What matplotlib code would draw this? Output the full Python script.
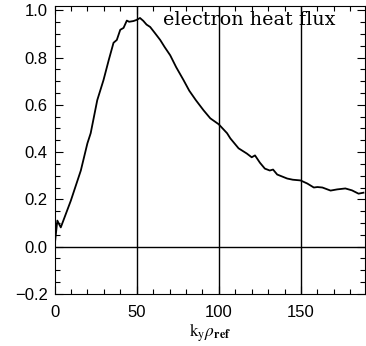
import numpy as np
import matplotlib.pyplot as plt
from matplotlib.ticker import MultipleLocator

# curve
ky = [0, 1.7, 3.8, 9.9, 16, 20, 22, 24, 26, 29.8, 33, 35.9, 37.9, 40, 42, 44,
      45.4, 48, 50, 52, 54, 56, 58.2, 61, 64.3, 67, 70.4, 74, 78.5, 82, 86,
      90.7, 94.8, 99.9, 105, 107, 112, 117, 120, 122, 125, 128, 131, 133, 135.5,
      138, 141.6, 145, 149.7, 153.8, 157.8, 160, 163, 168, 172, 177, 181, 185, 188]
flux = [0, 0.11, 0.081, 0.194, 0.322, 0.437, 0.48, 0.55, 0.62, 0.705, 0.79, 0.863, 0.875, 0.918, 0.926, 0.957,
        0.952, 0.955, 0.96, 0.968, 0.956, 0.94, 0.93, 0.905, 0.875, 0.845, 0.81, 0.76, 0.705, 0.66, 0.62,
        0.577, 0.543, 0.518, 0.48, 0.458, 0.416, 0.394, 0.378, 0.386, 0.355, 0.33, 0.322, 0.326, 0.305,
        0.298, 0.288, 0.283, 0.28, 0.267, 0.25, 0.252, 0.25, 0.237, 0.242, 0.246, 0.238, 0.224, 0.228]

plt.rcParams['mathtext.fontset'] = 'stix'

fig = plt.figure(figsize=(3.66, 3.46), dpi=100)
ax = fig.add_axes([0.149, 0.151, 0.8485, 0.8325])

ax.plot(ky, flux, color='black', lw=1.3)
for xv in [50, 100, 150]:
    ax.axvline(xv, color='black', lw=1)
ax.axhline(0, color='black', lw=1)

ax.set_xlim(0, 189)
ax.set_ylim(-0.2, 1.02)
ax.xaxis.set_major_locator(MultipleLocator(50))
ax.xaxis.set_minor_locator(MultipleLocator(10))
ax.yaxis.set_major_locator(MultipleLocator(0.2))
ax.yaxis.set_minor_locator(MultipleLocator(0.05))
ax.tick_params(which='both', direction='in', top=True, right=True,
               labelsize=12, width=0.8)
ax.tick_params(which='major', length=6)
ax.tick_params(which='minor', length=3.5)
for lab in ax.get_xticklabels() + ax.get_yticklabels():
    lab.set_family('Liberation Sans')
ax.xaxis.set_tick_params(pad=8)
ax.yaxis.set_tick_params(pad=5)

ax.text(0.903, 0.95, 'electron heat flux', transform=ax.transAxes,
        ha='right', va='center', family='DejaVu Serif', fontsize=13.8)
ax.set_xlabel(r'$\mathrm{k_y}\rho_\mathbf{ref}$', fontsize=12.5, labelpad=1)

fig.savefig('out.png', dpi=100)
